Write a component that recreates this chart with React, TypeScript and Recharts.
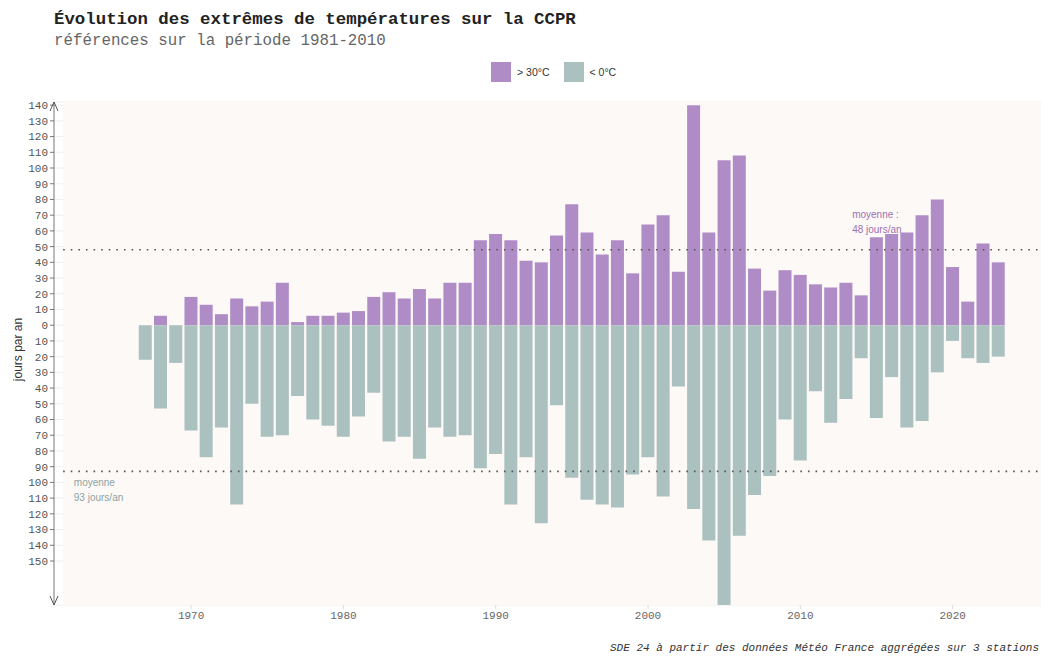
import { Bar, BarChart, CartesianGrid, Legend, ReferenceArea, ReferenceDot, ReferenceLine, XAxis, YAxis } from "recharts";

// années de mesure
const years = [
  1967, 1968, 1969, 1970, 1971, 1972, 1973, 1974, 1975, 1976,
  1977, 1978, 1979, 1980, 1981, 1982, 1983, 1984, 1985, 1986,
  1987, 1988, 1989, 1990, 1991, 1992, 1993, 1994, 1995, 1996,
  1997, 1998, 1999, 2000, 2001, 2002, 2003, 2004, 2005, 2006,
  2007, 2008, 2009, 2010, 2011, 2012, 2013, 2014, 2015, 2016,
  2017, 2018, 2019, 2020, 2021, 2022, 2023,
];

// jours > 30°C
const hotDays = [
  0, 6, 0, 18, 13, 7, 17, 12, 15, 27,
  2, 6, 6, 8, 9, 18, 21, 17, 23, 17,
  27, 27, 54, 58, 54, 41, 40, 57, 77, 59,
  45, 54, 33, 64, 70, 34, 140, 59, 105, 108,
  36, 22, 35, 32, 26, 24, 27, 19, 56, 58,
  59, 70, 80, 37, 15, 52, 40,
];

// jours < 0°C
const frostDays = [
  22, 53, 24, 67, 84, 65, 114, 50, 71, 70,
  45, 60, 64, 71, 58, 43, 74, 71, 85, 65,
  71, 70, 91, 82, 114, 84, 126, 51, 97, 111,
  114, 116, 95, 84, 109, 39, 117, 137, 178, 134,
  108, 96, 60, 86, 42, 62, 47, 21, 59, 33,
  65, 61, 30, 10, 21, 24, 20,
];

const yTicks = [
  -150, -140, -130, -120, -110, -100, -90, -80, -70, -60, -50, -40, -30, -20, -10,
  0, 10, 20, 30, 40, 50, 60, 70, 80, 90, 100, 110, 120, 130, 140,
];
const xTicks = [1970, 1980, 1990, 2000, 2010, 2020];

const hotMean = 48;
const frostMean = 93;

const PURPLE = "#b08cc6";
const GREEN = "#abc1c0";

const data = years.map((year, i) => ({ year, chaud: hotDays[i], froid: -frostDays[i] }));
const legendOrder = ["chaud", "froid"];

const mono = "'Liberation Mono', 'DejaVu Sans Mono', monospace";
const sans = "'Liberation Sans', Arial, sans-serif";

export default function App() {
  return (
    <div style={{ position: "absolute", left: 0, top: 0, width: 1041, height: 657, background: "#fff", overflow: "hidden", fontFamily: sans }}>
      <div style={{ position: "absolute", left: 54, top: 10, fontFamily: mono, fontWeight: "bold", fontSize: 17.4, color: "#222", whiteSpace: "nowrap" }}>
        Évolution des extrêmes de températures sur la CCPR
      </div>
      <div style={{ position: "absolute", left: 54, top: 32, fontFamily: mono, fontSize: 15.8, color: "#666", whiteSpace: "nowrap" }}>
        références sur la période 1981-2010
      </div>

      <BarChart
        width={1041}
        height={657}
        data={data}
        stackOffset="sign"
        margin={{ top: 102, right: 0, bottom: 22, left: 0 }}
      >
        <ReferenceArea x1={1961.6} x2={2025.8} y1={-178} y2={142} fill="#fdf9f7" fillOpacity={1} stroke="none" />
        <CartesianGrid vertical={false} stroke="#f2eeeb" />
        <XAxis
          dataKey="year"
          type="number"
          domain={[1961, 2025.8]}
          ticks={xTicks}
          axisLine={false}
          tickLine={{ stroke: "#ddd" }}
          tickSize={4}
          height={30}
          tick={{ fontFamily: mono, fontSize: 11, fill: "#666" }}
        />
        <YAxis
          type="number"
          domain={[-178, 142]}
          allowDataOverflow
          ticks={yTicks}
          interval={0}
          width={54}
          tickFormatter={(v: number) => String(Math.abs(v))}
          axisLine={{ stroke: "#777" }}
          tickLine={{ stroke: "#777" }}
          tickSize={4}
          tick={{ fontFamily: mono, fontSize: 11, fill: "#555" }}
          label={{ value: "jours par an", angle: -90, position: "center", dx: -9, dy: -4, style: { fontFamily: sans, fontSize: 12, fill: "#333" } }}
        />
        <Legend verticalAlign="middle" content={LegendBox} wrapperStyle={{ position: "absolute", top: 62, left: 491, width: 200, height: 20 }} />
        <Bar dataKey="chaud" name="> 30°C" stackId="t" fill={PURPLE} barSize={13} isAnimationActive={false} />
        <Bar dataKey="froid" name="< 0°C" stackId="t" fill={GREEN} barSize={13} isAnimationActive={false} />
        <ReferenceLine
          segment={[{ x: 1961.6, y: hotMean }, { x: 2025.8, y: hotMean }]}
          stroke="#555"
          strokeWidth={1.6}
          strokeDasharray="1.6 6"
        />
        <ReferenceLine
          segment={[{ x: 1961.6, y: -frostMean }, { x: 2025.8, y: -frostMean }]}
          stroke="#555"
          strokeWidth={1.6}
          strokeDasharray="1.6 6"
        />
        <ReferenceDot x={2013.4} y={71} r={0} ifOverflow="visible" shape={(p: any) => <Note {...p} lines={["moyenne :", `${hotMean} jours/an`]} color="#9b72b0" />} />
        <ReferenceDot x={1962.3} y={-100} r={0} ifOverflow="visible" shape={(p: any) => <Note {...p} lines={["moyenne", `${frostMean} jours/an`]} color="#8da3a2" />} />
        <ReferenceDot x={1961} y={142} r={0} ifOverflow="visible" shape={(p: any) => <Arrow {...p} up />} />
        <ReferenceDot x={1961} y={-178} r={0} ifOverflow="visible" shape={(p: any) => <Arrow {...p} />} />
      </BarChart>

      <div style={{ position: "absolute", left: 610, top: 642, fontFamily: mono, fontStyle: "italic", fontSize: 11, color: "#333", whiteSpace: "nowrap" }}>
        SDE 24 à partir des données Météo France aggrégées sur 3 stations
      </div>
    </div>
  );
}

function Note({ cx, cy, lines, color }: { cx: number; cy: number; lines: string[]; color: string }) {
  return (
    <text x={cx} y={cy} fontFamily={sans} fontSize={10} fill={color}>
      {lines.map((line, i) => (
        <tspan key={line} x={cx} dy={i === 0 ? 4 : 15}>{line}</tspan>
      ))}
    </text>
  );
}

function Arrow({ cx, cy, up }: { cx: number; cy: number; up?: boolean }) {
  const d = up ? 9 : -9;
  return (
    <path d={`M${cx - 4},${cy + d} L${cx},${cy} L${cx + 4},${cy + d}`} fill="none" stroke="#555" strokeWidth={1} />
  );
}

function LegendBox({ payload }: any) {
  const items = [...(payload || [])].sort(
    (a: any, b: any) => legendOrder.indexOf(a.dataKey) - legendOrder.indexOf(b.dataKey)
  );
  return (
    <div style={{ display: "flex", alignItems: "center", fontFamily: sans, fontSize: 10.5, color: "#333" }}>
      {items.map((entry: any) => (
        <div key={entry.value} style={{ display: "flex", alignItems: "center", marginRight: 14 }}>
          <span style={{ width: 20, height: 20, background: entry.color, display: "inline-block", marginRight: 6 }} />
          <span>{entry.value}</span>
        </div>
      ))}
    </div>
  );
}
